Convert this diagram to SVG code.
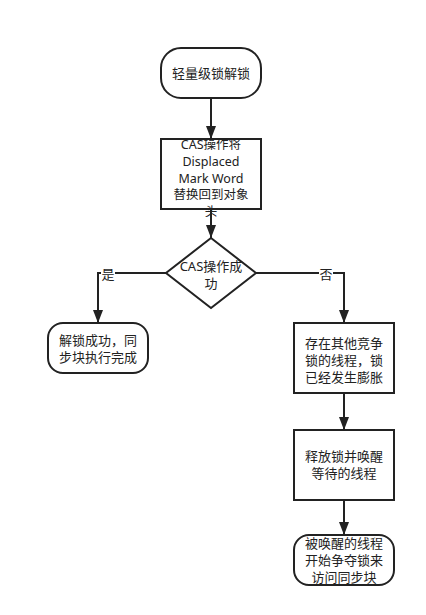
<svg xmlns="http://www.w3.org/2000/svg" width="426" height="615" viewBox="0 0 426 615">
<style>
.n{fill:#fff;stroke:#222;stroke-width:2}
.c{fill:none;stroke:#222;stroke-width:2}
text{font-family:"Noto Sans","Noto Sans CJK SC",sans-serif;font-size:13px;fill:#222;text-anchor:middle}
.s{font-size:12.5px}
</style>
<defs>
<marker id="a" markerUnits="userSpaceOnUse" markerWidth="14" markerHeight="10" refX="13" refY="5" orient="auto">
<path d="M0,0 L13,5 L0,10 z" fill="#222"/>
</marker>
</defs>
<rect width="426" height="615" fill="#fff"/>
<g id="connectors">
<path class="c" d="M211,98 V139" marker-end="url(#a)"/>
<path class="c" d="M211,209 V238" marker-end="url(#a)"/>
<path class="c" d="M166,273 H98 V323" marker-end="url(#a)"/>
<path class="c" d="M256,273 H344 V323" marker-end="url(#a)"/>
<path class="c" d="M344,393 V430" marker-end="url(#a)"/>
<path class="c" d="M344,500 V535" marker-end="url(#a)"/>
<rect x="101" y="266" width="14" height="16" fill="#fff"/>
<text x="108" y="279">是</text>
<rect x="319" y="266" width="14" height="16" fill="#fff"/>
<text x="326" y="279">否</text>
</g>
<g id="start">
<rect class="n" x="161" y="48" width="100" height="50" rx="20" ry="20"/>
<text x="211" y="78">轻量级锁解锁</text>
</g>
<g id="cas">
<rect class="n" x="161" y="139" width="100" height="70"/>
<text class="s" x="211" y="149">CAS操作将</text>
<text class="s" x="211" y="166">Displaced</text>
<text class="s" x="211" y="183">Mark Word</text>
<text class="s" x="211" y="199">替换回到对象</text>
<text class="s" x="211" y="216">头</text>
</g>
<g id="decision">
<path class="n" d="M211,238 L256,273 L211,308 L166,273 z"/>
<text x="211" y="271">CAS操作成</text>
<text x="211" y="288">功</text>
</g>
<g id="success">
<rect class="n" x="48" y="323" width="100" height="50" rx="15" ry="15"/>
<text x="98" y="345">解锁成功，同</text>
<text x="98" y="362">步块执行完成</text>
</g>
<g id="inflated">
<rect class="n" x="294" y="323" width="100" height="70"/>
<text x="344" y="348">存在其他竞争</text>
<text x="344" y="365">锁的线程，锁</text>
<text x="344" y="382">已经发生膨胀</text>
</g>
<g id="release">
<rect class="n" x="294" y="430" width="100" height="70"/>
<text x="344" y="461">释放锁并唤醒</text>
<text x="344" y="478">等待的线程</text>
</g>
<g id="end">
<rect class="n" x="294" y="535" width="100" height="50" rx="15" ry="15"/>
<text x="344" y="548">被唤醒的线程</text>
<text x="344" y="565">开始争夺锁来</text>
<text x="344" y="582">访问同步块</text>
</g>
</svg>
